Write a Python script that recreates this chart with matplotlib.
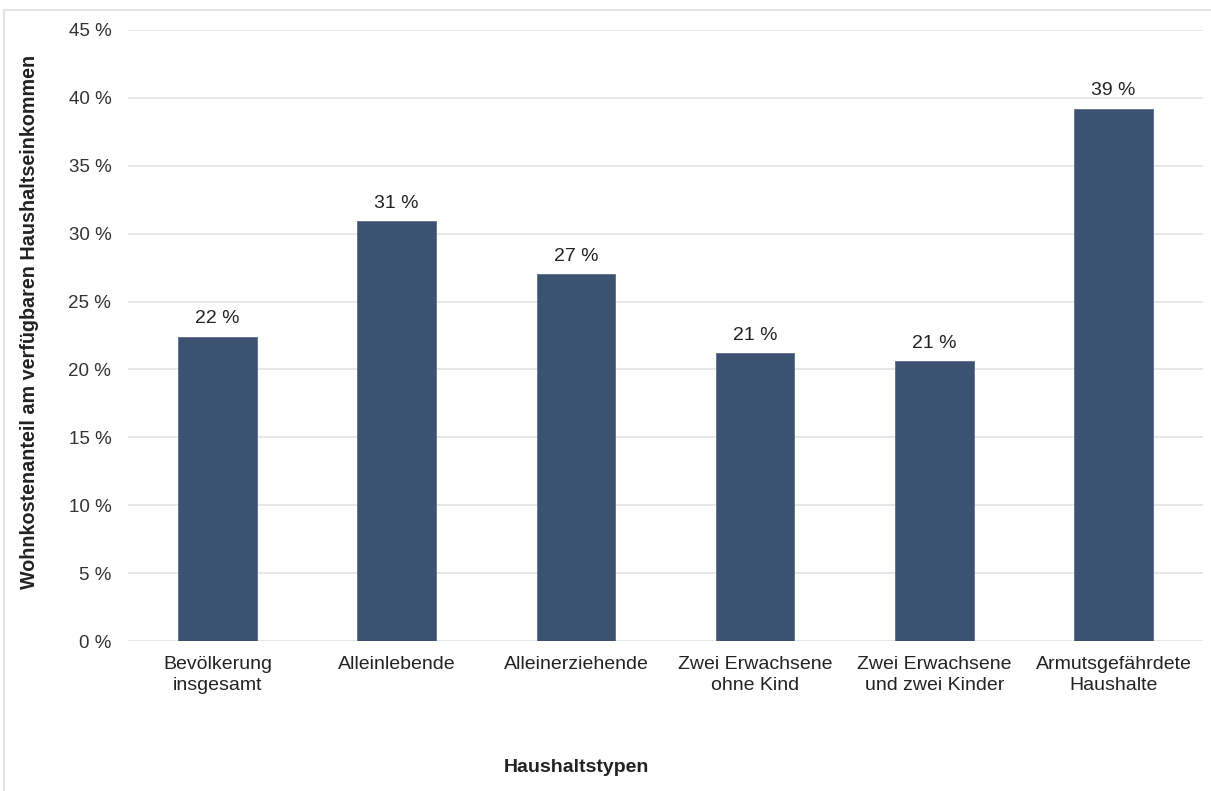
import matplotlib
matplotlib.use("Agg")
import matplotlib.pyplot as plt
from matplotlib.patches import Rectangle

plt.rcParams['font.family'] = ['Liberation Sans', 'DejaVu Sans']

kategorien = ["Bevölkerung\ninsgesamt", "Alleinlebende", "Alleinerziehende",
              "Zwei Erwachsene\nohne Kind", "Zwei Erwachsene\nund zwei Kinder",
              "Armutsgefährdete\nHaushalte"]
werte = [22.4, 30.9, 27.0, 21.2, 20.6, 39.2]
etiketten = ["22 %", "31 %", "27 %", "21 %", "21 %", "39 %"]
yticks = [0, 5, 10, 15, 20, 25, 30, 35, 40, 45]

W, H = 1211, 791
fig = plt.figure(figsize=(W / 100, H / 100), dpi=100)
ax = fig.add_axes([128 / W, 1 - 641 / H, (1203 - 128) / W, (641 - 30) / H])

# rahmen um die grafik
fig.patches.append(Rectangle((4 / W, -0.01), 1.1, 1 - 10 / H + 0.01, transform=fig.transFigure,
                             fill=False, edgecolor="#e3e3e3", linewidth=1.5))

x = range(len(werte))
ax.bar(x, werte, width=0.44, color="#3b5270", edgecolor="#5a6e88", linewidth=0.6, zorder=3)
for i, v in enumerate(werte):
    ax.text(i, v + 0.7, etiketten[i], ha="center", va="bottom", fontsize=14, color="#222222")

ax.set_xlim(-0.5, len(werte) - 0.5)
ax.set_ylim(0, 45)
ax.set_yticks(yticks)
ax.set_yticklabels([f"{t} %" for t in yticks], fontsize=13.5, color="#333333")
ax.set_xticks(list(x))
ax.set_xticklabels(kategorien, fontsize=14, color="#222222", linespacing=1.3)
ax.tick_params(axis="both", length=0)
ax.tick_params(axis="y", pad=12)
ax.tick_params(axis="x", pad=11)
ax.grid(axis="y", color="#e3e3e3", linewidth=1.2, zorder=0)
for s in ax.spines.values():
    s.set_visible(False)

fig.text(30 / W, 1 - 322 / H, "Wohnkostenanteil am verfügbaren Haushaltseinkommen", rotation=90,
         ha="center", va="center", fontsize=14.2, fontweight="bold", color="#222222")
fig.text(576 / W, 1 - 768 / H, "Haushaltstypen", ha="center", va="center",
         fontsize=14, fontweight="bold", color="#222222")

fig.savefig("out.png", dpi=100)
